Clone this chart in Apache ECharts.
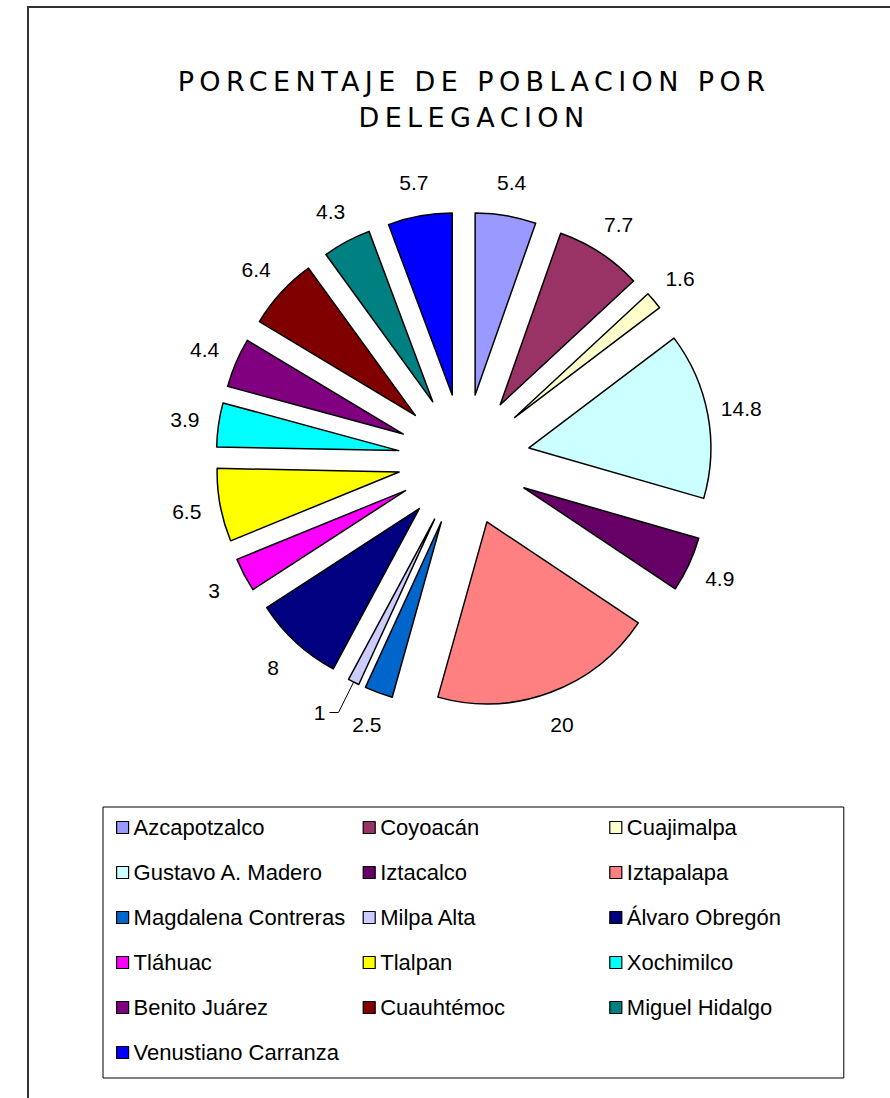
<!DOCTYPE html>
<html>
<head>
<meta charset="utf-8">
<script src="https://cdn.jsdelivr.net/npm/echarts@6/dist/echarts.min.js"></script>
<style>
  html, body { margin: 0; padding: 0; background: #fff; }
  #chart { width: 890px; height: 1098px; }
  /* wide, letter-spaced title like the original */
  #chart text[style*="DejaVu Sans"] { letter-spacing: 5.4px; }
</style>
</head>
<body>
<div id="chart"></div>
<script>
const titleText = 'PORCENTAJE DE POBLACION POR\nDELEGACION';

const categories = [
  'Azcapotzalco', 'Coyoacán', 'Cuajimalpa',
  'Gustavo A. Madero', 'Iztacalco', 'Iztapalapa',
  'Magdalena Contreras', 'Milpa Alta', 'Álvaro Obregón',
  'Tláhuac', 'Tlalpan', 'Xochimilco',
  'Benito Juárez', 'Cuauhtémoc', 'Miguel Hidalgo',
  'Venustiano Carranza'
];

const values = [5.4, 7.7, 1.6, 14.8, 4.9, 20, 2.5, 1, 8, 3, 6.5, 3.9, 4.4, 6.4, 4.3, 5.7];

const colors = [
  '#9999FF', '#993366', '#FFFFCC',
  '#CCFFFF', '#660066', '#FF8080',
  '#0066CC', '#CCCCFF', '#000080',
  '#FF00FF', '#FFFF00', '#00FFFF',
  '#800080', '#800000', '#008080',
  '#0000FF'
];

// slice whose label uses a leader line
const leaderLabelName = 'Milpa Alta';

const pieData = categories.map((name, i) => {
  const item = {
    name: name,
    value: values[i],
    selected: true,
    itemStyle: { color: colors[i] }
  };
  if (name === leaderLabelName) {
    item.labelLine = { show: true, length: 34, length2: 9, lineStyle: { color: '#000', width: 1 } };
    item.label = { distanceToLabelLine: 4 };
  }
  return item;
});

const chart = echarts.init(document.getElementById('chart'), null, { renderer: 'svg' });

chart.setOption({
  backgroundColor: '#ffffff',
  animation: false,
  graphic: [{
    type: 'rect',
    shape: { x: 28, y: 7, width: 1000, height: 1200 },
    style: { fill: 'none', stroke: '#333', lineWidth: 2 },
    silent: true,
    z: -10
  }],
  title: {
    text: titleText,
    left: 474,
    top: 63,
    textAlign: 'center',
    padding: 0,
    textStyle: {
      fontFamily: 'DejaVu Sans',
      fontSize: 27,
      fontWeight: 'normal',
      color: '#000',
      lineHeight: 36
    }
  },
  legend: {
    data: categories,
    left: 103,
    top: 807,
    width: 726,
    orient: 'horizontal',
    padding: [5, 2, 10, 13],
    itemGap: 14,
    itemWidth: 12,
    itemHeight: 12,
    icon: 'rect',
    borderColor: '#000',
    borderWidth: 1,
    backgroundColor: '#fff',
    selectedMode: false,
    itemStyle: { borderColor: '#000', borderWidth: 1.2 },
    textStyle: {
      fontFamily: 'Liberation Sans',
      fontSize: 22,
      color: '#000',
      width: 215,
      lineHeight: 31
    }
  },
  series: [{
    type: 'pie',
    center: [464, 460],
    radius: 182,
    startAngle: 90,
    clockwise: true,
    selectedMode: 'multiple',
    selectedOffset: 66,
    avoidLabelOverlap: false,
    silent: true,
    itemStyle: { borderColor: '#000', borderWidth: 1.5 },
    select: { itemStyle: { borderColor: '#000', borderWidth: 1.5 } },
    emphasis: { disabled: true },
    label: {
      show: true,
      position: 'outside',
      formatter: '{c}',
      fontFamily: 'Liberation Sans',
      fontSize: 21,
      color: '#000',
      distanceToLabelLine: 0
    },
    labelLine: { show: false, length: 34, length2: 0 },
    labelLayout: function (params) {
      if (categories[params.dataIndex] === leaderLabelName) return {};
      return { align: 'center' };
    },
    data: pieData
  }]
});
</script>
</body>
</html>
